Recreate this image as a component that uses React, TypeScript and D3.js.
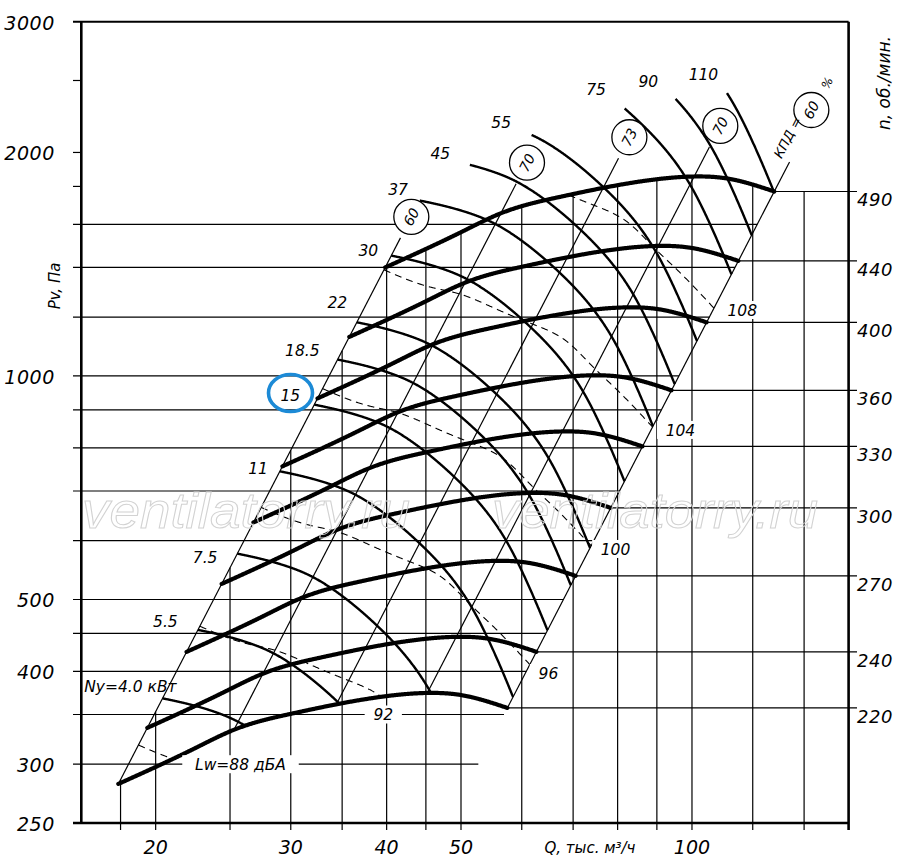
import React from 'react';
import * as d3 from 'd3';

// ---------- data ----------
// fan curve at the base speed (220 rpm): Q in thousand m3/h, Pv in Pa
const baseRpm = 220;
const baseQ = [17.88, 22.67, 25.26, 29.96, 35.12, 39.25, 45.19, 49.89, 57.47];
const baseP = [282.2, 316.4, 333.6, 350.6, 362.7, 369.6, 374.2, 371.9, 357.2];
// speeds (right axis)
const rpms = [220, 240, 270, 300, 330, 360, 400, 440, 490];
// efficiency rays: Q where each ray meets the 220 rpm curve, and its value %
const effQ = [17.88, 25.3, 34.4, 45.19, 57.47];
const effVals = [60, 70, 73, 70, 60];
const diagTopRpm = 513;
const circleRpm = [530, 530, 530, 530, 556];
const kpdTextRpm = 528;
// installed power curves, kW
const powerVals = [4.0, 5.5, 7.5, 11, 15, 18.5, 22, 30, 37, 45, 55, 75, 90, 110];
const powerText = ['Ny=4.0 кВт', '5.5', '7.5', '11', '15', '18.5', '22', '30', '37', '45', '55', '75', '90', '110'];
const powerLabelQ = [18.54, 20.59, 23.2, 27.2, 29.96, 31.06, 34.5, 37.86, 41.4, 47.0, 56.4, 75.0, 87.7, 103.5];
const powerLabelP = [382.3, 466.4, 568.8, 751.6, 942.8, 1084, 1258, 1478, 1786, 1997, 2198, 2428, 2489, 2551];
const reserveUpTo = [5.5, 30, Infinity];
const reserveK = [1.15, 1.1, 1.05];
const powerTopRpm = 558;
// sound power contours, dBA
const noiseLevels = [88, 92, 96, 100, 104, 108];
const noiseText = ['Lw=88 дБА', '92', '96', '100', '104', '108'];
const noiseBaseDb = 86.69; // at left boundary, 220 rpm
const noiseShapeQ = [17.88, 21.1, 34.4, 39.2, 44.7, 57.47];
const noiseShapeDb = [0, 1.32, 4.51, 5.28, 6.31, 7.85];
const noiseLabelQ = [25.8, 39.6, 65.0, 79.5, 96.6, 116.3];
const noiseLabelP = [300, 350, 398, 584.8, 845.9, 1227];
// grid and ticks
const gridP = [300, 350, 400, 450, 500, 600, 700, 800, 900, 1000, 1200, 1400, 1600];
const gridQ = [18, 20, 25, 30, 35, 40, 45, 50, 60, 70, 80, 90, 100, 120, 140];
const yTickOnly = [1800, 2000, 2500];
const yLabels = [250, 300, 400, 500, 1000, 2000, 3000];
const xLabels = [20, 30, 40, 50, 100];

// ---------- helpers ----------
function naturalSpline(xs: number[], ys: number[]) {
  const n = xs.length;
  const h: number[] = [];
  const alpha: number[] = new Array(n).fill(0);
  for (let i = 0; i < n - 1; i++) h[i] = xs[i + 1] - xs[i];
  const l = new Array(n).fill(0), mu = new Array(n).fill(0), z = new Array(n).fill(0);
  const c = new Array(n).fill(0), b = new Array(n).fill(0), d = new Array(n).fill(0);
  for (let i = 1; i < n - 1; i++)
    alpha[i] = (3 / h[i]) * (ys[i + 1] - ys[i]) - (3 / h[i - 1]) * (ys[i] - ys[i - 1]);
  l[0] = 1;
  for (let i = 1; i < n - 1; i++) {
    l[i] = 2 * (xs[i + 1] - xs[i - 1]) - h[i - 1] * mu[i - 1];
    mu[i] = h[i] / l[i];
    z[i] = (alpha[i] - h[i - 1] * z[i - 1]) / l[i];
  }
  for (let j = n - 2; j >= 0; j--) {
    c[j] = z[j] - mu[j] * c[j + 1];
    b[j] = (ys[j + 1] - ys[j]) / h[j] - (h[j] * (c[j + 1] + 2 * c[j])) / 3;
    d[j] = (c[j + 1] - c[j]) / (3 * h[j]);
  }
  return (x: number) => {
    let i = n - 2;
    for (let k = 0; k < n - 1; k++) if (x <= xs[k + 1]) { i = k; break; }
    const dx = x - xs[i];
    return ys[i] + b[i] * dx + c[i] * dx * dx + d[i] * dx * dx * dx;
  };
}

const baseSpline = naturalSpline(baseQ.map(Math.log10), baseP.map(Math.log10));
const P0at = (q: number) => Math.pow(10, baseSpline(Math.log10(q)));
const effSpline = naturalSpline(effQ.map(Math.log10), effVals);
const noiseSpline = naturalSpline(noiseShapeQ.map(Math.log10), noiseShapeDb);

const qL = baseQ[0], pL = baseP[0];
const qR = baseQ[baseQ.length - 1], pR = baseP[baseP.length - 1];
const uL = Math.log10(qL), uR = Math.log10(qR);
const NS = 600;
const samples = d3.range(NS + 1).map((i) => {
  const u = uL + ((uR - uL) * i) / NS;
  const q = Math.pow(10, u);
  return { u, q, p: P0at(q) };
});
type S = { u: number; q: number; p: number };

function contour(rOf: (s: S) => number, rLo: number, rHi: number): [number, number][] {
  const pts: [number, number][] = [];
  let prev: { s: S; r: number; ok: boolean } | null = null;
  for (const s of samples) {
    const r = rOf(s);
    const ok = r >= rLo && r <= rHi;
    if (prev && ok !== prev.ok) {
      const outR = ok ? prev.r : r;
      const bound = outR < rLo ? rLo : rHi;
      const t = (Math.log(bound) - Math.log(prev.r)) / (Math.log(r) - Math.log(prev.r));
      const uc = prev.s.u + t * (s.u - prev.s.u);
      const qc = Math.pow(10, uc);
      pts.push([qc * bound, P0at(qc) * bound * bound]);
    }
    if (ok) pts.push([s.q * r, s.p * r * r]);
    prev = { s, r, ok };
  }
  return pts;
}

const FONT = '"DejaVu Sans", sans-serif';

export default function App() {
  const x = d3.scaleLog().domain([16, 160]).range([81.3, 848.6]);
  const y = d3.scaleLog().domain([250, 3000]).range([823, 21.7]);
  const line = d3.line<[number, number]>().x((d) => x(d[0])).y((d) => y(d[1]));

  const rTop = rpms[rpms.length - 1] / baseRpm;
  const xL = x(16), xRt = x(160), yB = y(250), yT = y(3000);

  const topP = (q: number) => {
    if (q <= qL * rTop) return pL * (q / qL) * (q / qL);
    if (q <= qR * rTop) return P0at(q / rTop) * rTop * rTop;
    return pR * rTop * rTop;
  };

  const fanPaths = rpms.map((n) => {
    const r = n / baseRpm;
    return line(samples.map((s) => [s.q * r, s.p * r * r] as [number, number])) || '';
  });

  const powerPaths = powerVals.map((ny) => {
    let k = reserveK[reserveK.length - 1];
    for (let i = 0; i < reserveUpTo.length; i++) if (ny <= reserveUpTo[i]) { k = reserveK[i]; break; }
    const ns = ny / k;
    const pts = contour(
      (s) => Math.cbrt((ns * 3600 * (effSpline(s.u) / 100)) / (s.q * s.p)),
      1, powerTopRpm / baseRpm
    );
    return line(pts) || '';
  });

  const noisePaths = noiseLevels.map((L) => {
    const pts = contour((s) => Math.pow(10, (L - noiseBaseDb - noiseSpline(s.u)) / 50), 1, rTop);
    return line(pts) || '';
  });

  const rD = diagTopRpm / baseRpm;
  const diags = effQ.map((q0) => {
    const p0 = P0at(q0);
    return { q0, p0, d: line([[q0, p0], [q0 * rD, p0 * rD * rD]]) || '' };
  });
  const angle = (() => {
    const a = [x(qL), y(pL)], b = [x(qL * 2), y(pL * 4)];
    return (Math.atan2(b[1] - a[1], b[0] - a[0]) * 180) / Math.PI;
  })();

  const txt = {
    fontFamily: FONT,
    fontStyle: 'italic' as const,
    fill: '#000',
  };

  const kpdR = kpdTextRpm / baseRpm;
  const kpdPos = [x(qR * kpdR), y(pR * kpdR * kpdR)];
  const pctR = 2.63;
  const pctPos = [x(qR * pctR), y(pR * pctR * pctR)];

  return (
    <svg width={900} height={867} style={{ position: 'absolute', left: 0, top: 0, background: '#fff' }}>
      <rect x={0} y={0} width={900} height={867} fill="#fff" />
      {/* horizontal pressure grid */}
      <g stroke="#000" strokeWidth={1.2}>
        {gridP.map((p) => (
          <line key={'gp' + p} x1={73} x2={x(qR * Math.sqrt(p / pR))} y1={y(p)} y2={y(p)} />
        ))}
        {yTickOnly.map((p) => (
          <line key={'tp' + p} x1={73} x2={xL} y1={y(p)} y2={y(p)} />
        ))}
        {/* vertical flow grid */}
        {gridQ.map((q) => (
          <line key={'gq' + q} x1={x(q)} x2={x(q)} y1={830} y2={y(topP(q))} />
        ))}
        {/* speed lines */}
        {rpms.map((n) => {
          const r = n / baseRpm;
          return <line key={'rl' + n} x1={x(qR * r)} x2={857} y1={y(pR * r * r)} y2={y(pR * r * r)} />;
        })}
        {/* efficiency rays */}
        {diags.map((dg, i) => (
          <path key={'dg' + i} d={dg.d} fill="none" />
        ))}
      </g>
      {/* noise contours */}
      <g stroke="#000" strokeWidth={1.1} strokeDasharray="7 5" fill="none">
        {noisePaths.map((d, i) => (
          <path key={'np' + i} d={d} />
        ))}
      </g>
      {/* power curves */}
      <g stroke="#000" strokeWidth={2.4} fill="none" strokeLinejoin="round">
        {powerPaths.map((d, i) => (
          <path key={'pp' + i} d={d} />
        ))}
      </g>
      {/* fan curves */}
      <g stroke="#000" strokeWidth={4.2} fill="none" strokeLinecap="round">
        {fanPaths.map((d, i) => (
          <path key={'fp' + i} d={d} />
        ))}
      </g>
      {/* efficiency circles */}
      {diags.map((dg, i) => {
        const r = circleRpm[i] / baseRpm;
        const cx = x(dg.q0 * r), cy = y(dg.p0 * r * r);
        return (
          <g key={'ec' + i} transform={`translate(${cx - (i === 4 ? 5 : 0)},${cy})`}>
            <circle r={17.5} fill="#fff" stroke="#000" strokeWidth={1.3} />
            <text {...txt} fontSize={14} textAnchor="middle" dy="0.36em" transform={`rotate(${angle})`}>
              {effVals[i]}
            </text>
          </g>
        );
      })}
      <text {...txt} fontSize={13} textAnchor="middle" dy="0.36em"
        transform={`translate(${kpdPos[0]},${kpdPos[1]}) rotate(${angle}) translate(0,-13)`}>
        КПД =
      </text>
      <text {...txt} fontSize={12} textAnchor="middle" dy="0.36em"
        transform={`translate(${pctPos[0]},${pctPos[1]}) rotate(${angle}) translate(0,-3)`}>
        %
      </text>
      {/* watermark */}
      <g fill="none" stroke="#d2d2d2" strokeWidth={1} fontFamily='"Liberation Sans", sans-serif' fontStyle="italic" fontSize={50}>
        <text x={82} y={528} textLength={328} lengthAdjust="spacingAndGlyphs">ventilatorry.ru</text>
        <text x={492} y={528} textLength={326} lengthAdjust="spacingAndGlyphs">ventilatorry.ru</text>
      </g>
      {/* power labels */}
      {powerText.map((t, i) => (
        <text key={'pl' + i} {...txt} fontSize={15.5} textAnchor="middle" dy="0.36em"
          x={x(powerLabelQ[i])} y={y(powerLabelP[i])}>
          {t}
        </text>
      ))}
      {/* noise labels */}
      {noiseText.map((t, i) => {
        const cx = x(noiseLabelQ[i]), cy = y(noiseLabelP[i]);
        const w = t.length * 0.62 * 15.5 + (i === 0 ? 30 : 18);
        return (
          <g key={'nl' + i}>
            <rect x={cx - w / 2} y={cy - 9} width={w} height={18} fill="#fff" />
            <text {...txt} fontSize={15.5} textAnchor="middle" dy="0.36em" x={cx} y={cy}>
              {t}
            </text>
          </g>
        );
      })}
      {/* axes frame */}
      <g stroke="#000" strokeWidth={2.6} fill="none">
        <line x1={xL} x2={xL} y1={yT} y2={yB} />
        <line x1={73} x2={xRt} y1={yB} y2={yB} />
        <line x1={xRt} x2={xRt} y1={yT} y2={830} />
        <line x1={73} x2={xRt} y1={yT} y2={yT} strokeWidth={2} />
      </g>
      {/* left axis labels */}
      {yLabels.map((p) => (
        <text key={'yl' + p} {...txt} fontSize={19} textAnchor="end" dy="0.36em" x={55} y={y(p) + 1} letterSpacing={0.6}>
          {p}
        </text>
      ))}
      <text {...txt} fontSize={15} textAnchor="middle" dy="0.36em" transform="translate(55,286) rotate(-90)">
        Pv, Па
      </text>
      {/* bottom axis labels */}
      {xLabels.map((q) => (
        <text key={'xl' + q} {...txt} fontSize={19} textAnchor="middle" x={x(q)} y={854}>
          {q}
        </text>
      ))}
      <text {...txt} fontSize={15} textAnchor="middle" x={590} y={853}>
        Q, тыс. м³/ч
      </text>
      {/* right axis labels */}
      {rpms.map((n) => {
        const r = n / baseRpm;
        return (
          <text key={'rn' + n} {...txt} fontSize={18} x={857} y={y(pR * r * r) + 15} letterSpacing={0.5}>
            {n}
          </text>
        );
      })}
      <text {...txt} fontSize={17} textAnchor="middle" dy="0.36em" transform="translate(884,83) rotate(-90)">
        n, об./мин.
      </text>
      {/* highlight */}
      <ellipse cx={290.5} cy={393} rx={22} ry={18.5} fill="none" stroke="#1c8ad6" strokeWidth={3.6} />
    </svg>
  );
}
